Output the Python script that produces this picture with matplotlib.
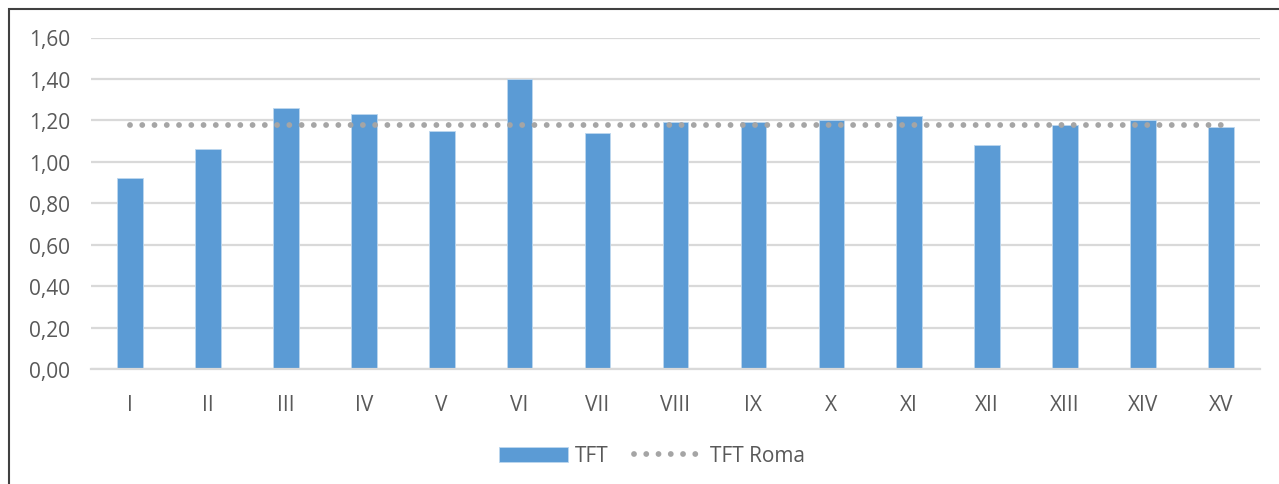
import matplotlib
matplotlib.use("Agg")
import matplotlib.pyplot as plt
from matplotlib.patches import Rectangle

# Dati
municipi = ["I", "II", "III", "IV", "V", "VI", "VII", "VIII",
            "IX", "X", "XI", "XII", "XIII", "XIV", "XV"]
tft = [0.92, 1.06, 1.26, 1.23, 1.15, 1.40, 1.14, 1.19,
       1.19, 1.20, 1.22, 1.08, 1.18, 1.20, 1.17]
tft_roma = 1.18
y_ticks = [0.0, 0.2, 0.4, 0.6, 0.8, 1.0, 1.2, 1.4, 1.6]

BAR = "#5B9BD5"
DOT = "#A5A5A5"
GRID = "#D9D9D9"
TXT = "#595959"

plt.rcParams["font.family"] = ["Open Sans", "DejaVu Sans"]

W, H = 1279, 485
fig = plt.figure(figsize=(W / 100, H / 100), dpi=100)
ax = fig.add_axes([91 / W, 1 - 370 / H, (1260 - 91) / W, (370 - 38.5) / H])

x = list(range(len(municipi)))
bars = ax.bar(x, tft, width=0.33, color=BAR, edgecolor="#BDD7EE",
              linewidth=0.6, label="TFT", zorder=2)
line, = ax.plot([x[0], x[-1]], [tft_roma, tft_roma], color=DOT, linewidth=4.2,
                linestyle=(0, (0.001, 2.1)), dash_capstyle="round",
                label="TFT Roma", zorder=3)

ax.set_xlim(-0.5, len(municipi) - 0.5)
ax.set_ylim(0, 1.6)
ax.set_yticks(y_ticks)
ax.set_yticklabels([f"{v:.2f}".replace(".", ",") for v in y_ticks])
ax.set_xticks(x)
ax.set_xticklabels(municipi)

ax.grid(axis="y", color=GRID, linewidth=1.6, zorder=0)
ax.set_axisbelow(True)
for side in ["top", "right", "left"]:
    ax.spines[side].set_visible(False)
ax.spines["bottom"].set_color(GRID)
ax.spines["bottom"].set_linewidth(1.6)
ax.tick_params(axis="both", length=0, labelsize=15, labelcolor=TXT)
ax.tick_params(axis="y", pad=15)
ax.tick_params(axis="x", pad=18)

fig.legend(handles=[bars, line], loc="center",
           bbox_to_anchor=(652 / W, 1 - 457 / H), ncol=2,
           frameon=False, fontsize=15, labelcolor=TXT, handlelength=3.3,
           handletextpad=0.35, columnspacing=1.2)

# cornice del grafico
fig.add_artist(Rectangle((9 / W, -0.1), 1.2, 1 - 10 / H + 0.1,
                         transform=fig.transFigure, fill=False,
                         edgecolor="#404040", linewidth=1.5))

fig.savefig("out.png", dpi=100)
